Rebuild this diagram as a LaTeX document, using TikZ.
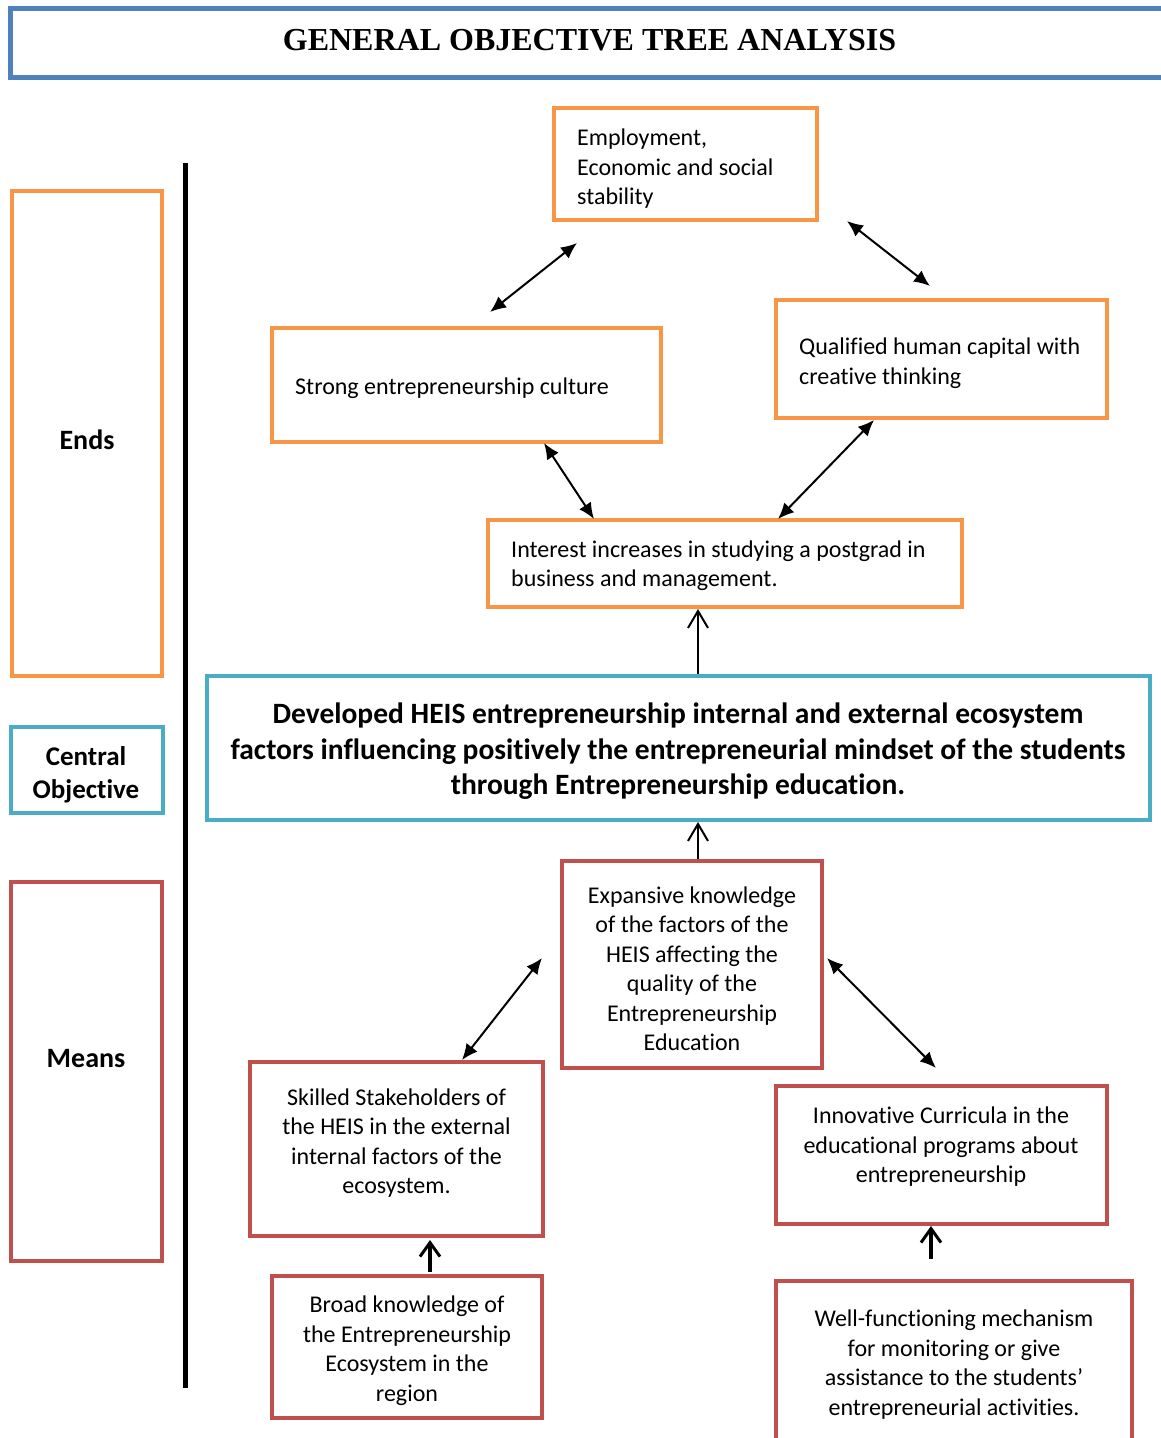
\documentclass[tikz,border=0pt]{standalone}
\usepackage{fontspec}
\setmainfont{Carlito}[Ligatures=NoCommon]
\newfontfamily\titlefont{Liberation Serif}
\usetikzlibrary{arrows.meta}

\definecolor{titleblue}{HTML}{4F81BD}
\definecolor{endorange}{HTML}{F79646}
\definecolor{coblue}{HTML}{4BACC6}
\definecolor{meanred}{HTML}{C0504D}

\tikzset{
  frame/.style={draw, line width=4pt, inner sep=0pt, fill=none},
  endbox/.style={frame, draw=endorange},
  cobox/.style={frame, draw=coblue},
  meanbox/.style={frame, draw=meanred},
  txt/.style={inner sep=0pt, font=\fontsize{24}{29.5}\selectfont},
  ltxt/.style={txt, anchor=west, align=left},
  ctxt/.style={txt, align=center},
  lab/.style={inner sep=0pt, align=center, font=\bfseries\fontsize{28}{33}\selectfont},
  dbl/.style={line width=2pt, {Latex[length=16pt,width=14pt]}-{Latex[length=16pt,width=14pt]}},
  upthin/.style={line width=2pt, -{Straight Barb[length=17pt,width=20pt,line width=2pt]}},
  upthick/.style={line width=4pt, -{Straight Barb[length=14pt,width=20pt,line width=3pt]}},
}

\begin{document}
\begin{tikzpicture}[x=1pt,y=-1pt]
\useasboundingbox (0,0) rectangle (1161,1438);

% heading
\node[frame, draw=titleblue, line width=5pt, minimum width=1165pt, minimum height=69pt] (titlebox) at (592.5,42.5) {};
\node[inner sep=0pt, font=\titlefont\bfseries\fontsize{32}{36}\selectfont] (title) at (589.5,40) {GENERAL OBJECTIVE TREE ANALYSIS};

% side labels
\node[endbox, minimum width=150pt, minimum height=485pt] (endslab) at (87,433.5) {};
\node[lab] (endst) at (87,440) {Ends};
\node[cobox, minimum width=152pt, minimum height=86pt] (colab) at (87,770) {};
\node[lab, font=\bfseries\fontsize{27}{33}\selectfont] (cot) at (86,775) {Central\\Objective};
\node[meanbox, minimum width=151pt, minimum height=379pt] (meanslab) at (86.5,1071.5) {};
\node[lab] (meanst) at (86,1059) {Means};

% divider
\coordinate (divtop) at (185,163);
\coordinate (divbot) at (185,1388);
\draw[line width=5pt] (divtop) -- (divbot);

% ends
\node[endbox, minimum width=263pt, minimum height=112pt] (emp) at (685.5,164) {};
\node[ltxt] (empt) at (577,169) {Employment,\\Economic and social\\stability};
\node[endbox, minimum width=389pt, minimum height=114pt] (cult) at (466.5,385) {};
\node[ltxt] (cultt) at (295,388.5) {Strong entrepreneurship culture};
\node[endbox, minimum width=331pt, minimum height=118pt] (hcap) at (941.5,359) {};
\node[ltxt] (hcapt) at (799,363) {Qualified human capital with\\creative thinking};
\node[endbox, minimum width=474pt, minimum height=87pt] (post) at (725,563.5) {};
\node[ltxt] (postt) at (511,565.5) {Interest increases in studying a postgrad in\\business and management.};

% central objective
\node[cobox, minimum width=943pt, minimum height=144pt] (core) at (678.5,748) {};
\node[inner sep=0pt, align=center, font=\bfseries\fontsize{29.5}{35.5}\selectfont] (coret) at (678,751.5)
  {Developed HEIS entrepreneurship internal and external ecosystem\\factors influencing positively the entrepreneurial mindset of the students\\through Entrepreneurship education.};

% means
\node[meanbox, minimum width=260pt, minimum height=207pt] (know) at (692,964.5) {};
\node[ctxt] (knowt) at (692,968.5) {Expansive knowledge\\of the factors of the\\HEIS affecting the\\quality of the\\Entrepreneurship\\Education};
\node[meanbox, minimum width=293pt, minimum height=174pt] (stake) at (396.5,1149) {};
\node[ctxt] (staket) at (396.5,1143) {Skilled Stakeholders of\\the HEIS in the external\\internal factors of the\\ecosystem.};
\node[meanbox, minimum width=331pt, minimum height=138pt] (curr) at (941.5,1155) {};
\node[ctxt] (currt) at (941,1147) {Innovative Curricula in the\\educational programs about\\entrepreneurship};
\node[meanbox, minimum width=270pt, minimum height=142pt] (broad) at (407,1347) {};
\node[ctxt] (broadt) at (407,1350.5) {Broad knowledge of\\the Entrepreneurship\\Ecosystem in the\\region};
\node[meanbox, minimum width=356pt, minimum height=189pt] (mech) at (954,1375.5) {};
\node[ctxt] (mecht) at (954,1364.5) {Well-functioning mechanism\\for monitoring or give\\assistance to the students'\\entrepreneurial activities.};

% connector end points
\coordinate (a1) at (490,312);  \coordinate (a2) at (577,243);
\coordinate (b1) at (847,221);  \coordinate (b2) at (930,286);
\coordinate (c1) at (544,443);  \coordinate (c2) at (594,519);
\coordinate (d1) at (874,420);  \coordinate (d2) at (778,519);
\coordinate (e1) at (462,1060); \coordinate (e2) at (542,958);
\coordinate (f1) at (827,958);  \coordinate (f2) at (936,1068);

% connectors
\draw[dbl] (a1) -- (a2);
\draw[dbl] (b1) -- (b2);
\draw[dbl] (c1) -- (c2);
\draw[dbl] (d1) -- (d2);
\draw[dbl] (e1) -- (e2);
\draw[dbl] (f1) -- (f2);
\draw[upthin] (core.north -| 698,0) -- (post.south -| 698,0);
\draw[upthin] (know.north -| 698,0) -- (core.south -| 698,0);
\draw[upthick] (broad.north -| 430,0) ++(0,-2) -- (430,1240);
\draw[upthick] (mech.north -| 931,0) ++(0,-20) -- (931,1226);
\end{tikzpicture}
\end{document}
